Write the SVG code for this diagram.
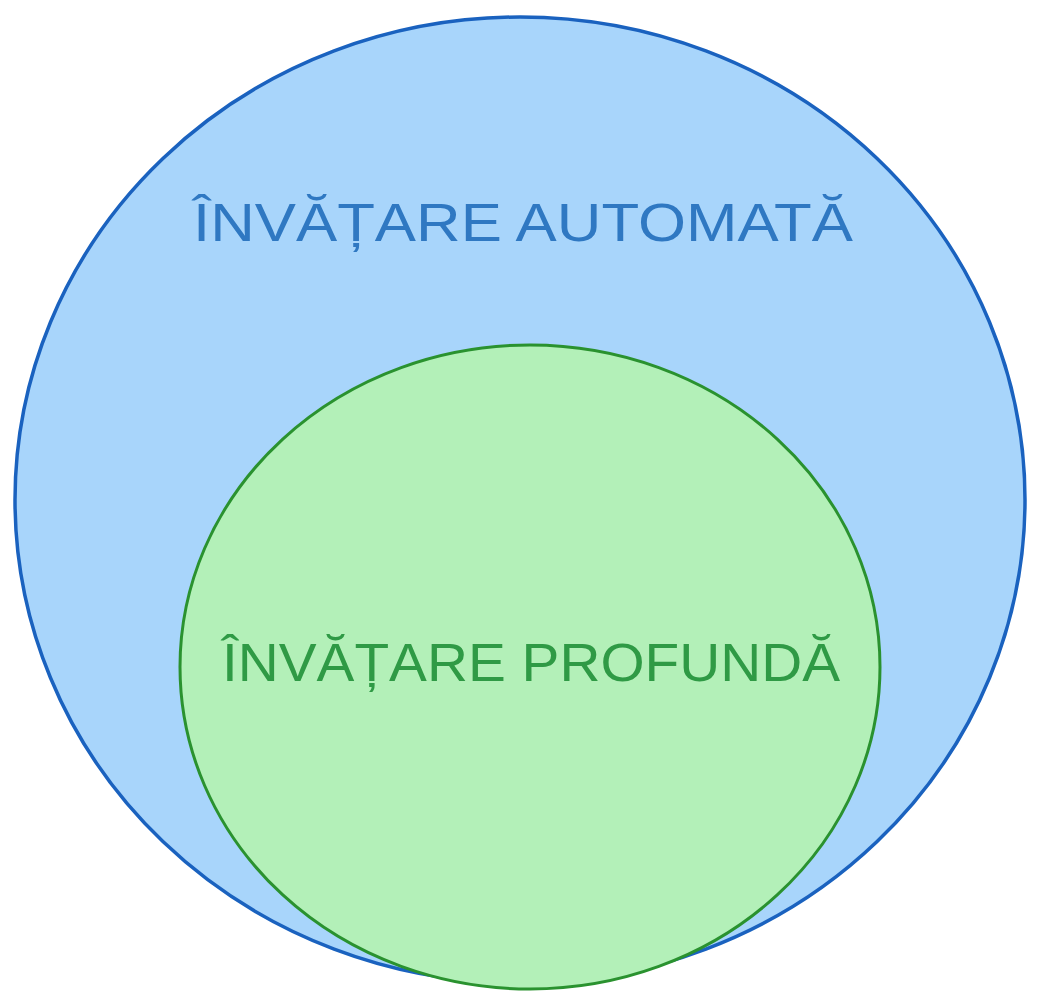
<svg xmlns="http://www.w3.org/2000/svg" width="1041" height="1008" viewBox="0 0 1041 1008">
<style>
.lbl{font-family:"Liberation Sans","DejaVu Sans",sans-serif;font-size:54px;font-weight:normal;}
</style>
<rect width="1041" height="1008" fill="#ffffff"/>
<g id="node-ml">
<ellipse cx="520" cy="500" rx="505" ry="483" fill="#a8d5fb" stroke="#1a62bf" stroke-width="3.5"/>
<text class="lbl" x="193" y="241" fill="#2f78c2" textLength="660" lengthAdjust="spacingAndGlyphs">ÎNVĂȚARE AUTOMATĂ</text>
</g>
<g id="node-dl">
<ellipse cx="530" cy="667" rx="350" ry="322" fill="#b3f0b8" stroke="#2a922f" stroke-width="3"/>
<text class="lbl" x="222" y="681" fill="#2f9a45" textLength="618" lengthAdjust="spacingAndGlyphs">ÎNVĂȚARE PROFUNDĂ</text>
</g>
<g id="connectors"></g>
</svg>
